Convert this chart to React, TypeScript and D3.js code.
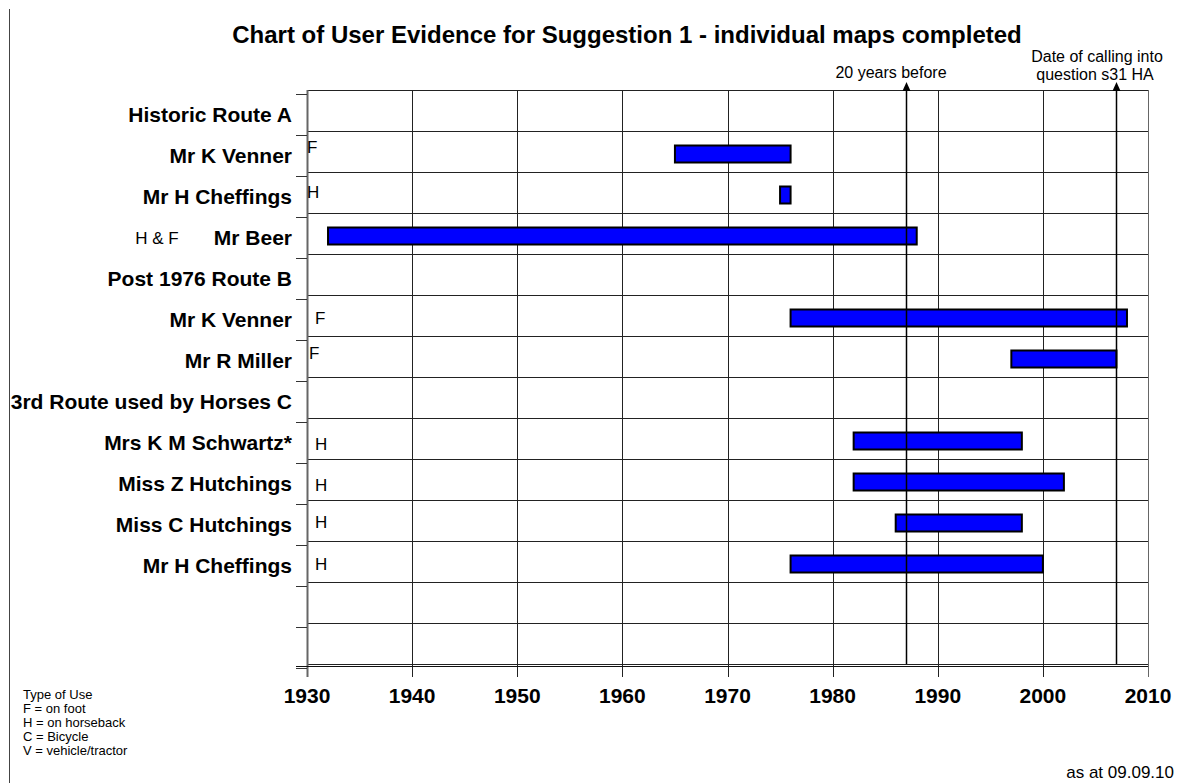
import React from 'react'
import * as d3 from 'd3'

// rows of the chart, top to bottom (last two are empty)
const rowLabels = [
  'Historic Route A',
  'Mr K Venner',
  'Mr H Cheffings',
  'Mr Beer',
  'Post 1976 Route B',
  'Mr K Venner',
  'Mr R Miller',
  '3rd Route used by Horses C',
  'Mrs K M Schwartz*',
  'Miss Z Hutchings',
  'Miss C Hutchings',
  'Mr H Cheffings',
  '',
  '',
]
const useTypes = ['', 'F', 'H', '', '', 'F', 'F', '', 'H', 'H', 'H', 'H', '', '']
const startYears = [null, 1965, 1975, 1932, null, 1976, 1997, null, 1982, 1982, 1986, 1976, null, null]
const endYears = [null, 1976, 1976, 1988, null, 2008, 2007, null, 1998, 2002, 1998, 2000, null, null]
const yearTicks = [1930, 1940, 1950, 1960, 1970, 1980, 1990, 2000, 2010]
const markerYears = [1987, 2007]
const legendLines = ['Type of Use', 'F = on foot', 'H = on horseback', 'C = Bicycle', 'V = vehicle/tractor']

const width = 1180
const height = 783
const font = '"Liberation Sans", Arial, sans-serif'

const App = () => {
  const left = 307
  const right = 1148
  const top = 90
  const bottom = 664

  const x = d3.scaleLinear().domain([1930, 2010]).range([left, right])
  const y = d3
    .scaleBand<number>()
    .domain(d3.range(rowLabels.length))
    .range([top, bottom])
    .paddingInner(0)
  const bh = y.bandwidth()

  // small per-row nudges for the type letters, as placed in the original
  const letterX = [0, 307, 307, 0, 0, 315, 309, 0, 315, 315, 315, 315, 0, 0]
  const letterDy = [0, 22, 26, 0, 0, 29, 23, 0, 32, 32, 28, 29, 0, 0]

  const boundaries = d3.range(rowLabels.length + 1).map((i) => top + i * bh)

  return (
    <svg
      width={width}
      height={height}
      style={{ position: 'absolute', left: 0, top: 0, background: '#fff' }}
      fontFamily={font}
    >
      <line x1={9.5} x2={9.5} y1={9} y2={height} stroke="#444" strokeWidth={1} />

      <text x={627} y={43} textAnchor="middle" fontSize={24} fontWeight="bold">
        Chart of User Evidence for Suggestion 1 - individual maps completed
      </text>

      {/* horizontal grid */}
      {boundaries.map((b, i) => (
        <line key={'h' + i} x1={left} x2={right} y1={b + 0.5} y2={b + 0.5} stroke="#222" strokeWidth={1} />
      ))}
      {/* vertical grid */}
      {yearTicks.map((t) => (
        <line
          key={'v' + t}
          x1={Math.round(x(t)) + 0.5}
          x2={Math.round(x(t)) + 0.5}
          y1={top}
          y2={677}
          stroke={t === 1930 || t === 2010 ? '#666' : '#222'}
          strokeWidth={t === 1930 ? 2 : 1}
        />
      ))}
      {/* y ticks */}
      {boundaries.map((b, i) => (
        <line key={'t' + i} x1={296} x2={left} y1={b + 4.5} y2={b + 4.5} stroke="#333" strokeWidth={1} />
      ))}
      <line x1={296} x2={right} y1={bottom + 2.5} y2={bottom + 2.5} stroke="#111" strokeWidth={1} />

      {/* row labels */}
      {rowLabels.map((l, i) => (
        <text
          key={'l' + i}
          x={292}
          y={(y(i) as number) + bh / 2 + 11.5}
          textAnchor="end"
          fontSize={21}
          fontWeight="bold"
        >
          {l}
        </text>
      ))}
      <text x={157} y={(y(3) as number) + bh / 2 + 10.5} textAnchor="middle" fontSize={17}>
        H &amp; F
      </text>

      {/* type letters */}
      {useTypes.map((u, i) =>
        u ? (
          <text key={'u' + i} x={letterX[i]} y={(y(i) as number) + letterDy[i]} fontSize={17}>
            {u}
          </text>
        ) : null
      )}

      {/* bars */}
      {startYears.map((s, i) =>
        s !== null && endYears[i] !== null ? (
          <rect
            key={'b' + i}
            x={x(s)}
            y={(y(i) as number) + bh / 2 - 6}
            width={x(endYears[i] as number) - x(s)}
            height={17}
            fill="#0000ff"
            stroke="#000"
            strokeWidth={2}
          />
        ) : null
      )}

      {/* marker arrows */}
      {markerYears.map((m) => {
        const mx = Math.round(x(m)) + 0.5
        return (
          <g key={'m' + m}>
            <line x1={mx} x2={mx} y1={88} y2={bottom} stroke="#000" strokeWidth={1.5} />
            <path d={`M${mx},82 L${mx - 4},91 L${mx + 4},91 Z`} fill="#000" />
          </g>
        )
      })}
      <text x={891} y={78} textAnchor="middle" fontSize={16}>
        20 years before
      </text>
      <text x={1097} y={62} textAnchor="middle" fontSize={16}>
        Date of calling into
      </text>
      <text x={1095} y={80} textAnchor="middle" fontSize={16}>
        question s31 HA
      </text>

      {/* x axis labels */}
      {yearTicks.map((t) => (
        <text key={'x' + t} x={x(t)} y={703} textAnchor="middle" fontSize={21} fontWeight="bold">
          {t}
        </text>
      ))}

      {/* legend */}
      {legendLines.map((l, i) => (
        <text key={'g' + i} x={23} y={699 + i * 14} fontSize={13}>
          {l}
        </text>
      ))}
      <text x={1174} y={778} textAnchor="end" fontSize={17}>
        as at 09.09.10
      </text>
    </svg>
  )
}

export default App
